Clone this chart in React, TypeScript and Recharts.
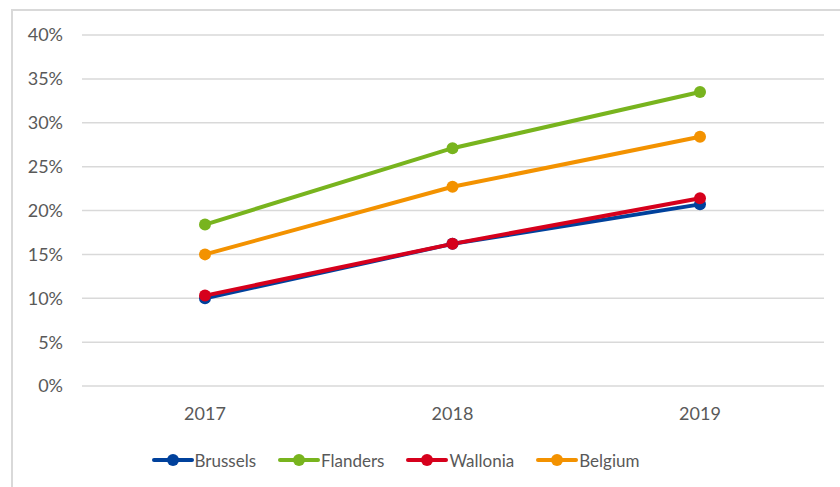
import React from 'react';
import { LineChart, Line, XAxis, YAxis, CartesianGrid, Legend } from 'recharts';

const years = ['2017', '2018', '2019'];
const brussels = [10.0, 16.2, 20.7];
const flanders = [18.4, 27.1, 33.5];
const wallonia = [10.3, 16.2, 21.4];
const belgium = [15.0, 22.7, 28.4];
const yTicks = [0, 5, 10, 15, 20, 25, 30, 35, 40];

const SERIES = [
  { key: 'Brussels', color: '#00419c' },
  { key: 'Flanders', color: '#78b41e' },
  { key: 'Wallonia', color: '#d6001c' },
  { key: 'Belgium', color: '#f39200' },
];

const data = years.map((year, i) => ({
  year,
  Brussels: brussels[i],
  Flanders: flanders[i],
  Wallonia: wallonia[i],
  Belgium: belgium[i],
}));

const FONT = 'Lato, "Liberation Sans", sans-serif';
const TEXT = '#595959';

const LegendContent = () => (
  <div
    style={{
      display: 'flex',
      justifyContent: 'center',
      alignItems: 'center',
      height: 24,
      fontFamily: FONT,
      fontSize: 17,
      color: TEXT,
    }}
  >
    {SERIES.map((s, i) => (
      <div
        key={s.key}
        style={{ display: 'flex', alignItems: 'center', marginRight: i < SERIES.length - 1 ? 22 : 0 }}
      >
        <svg width={42} height={14} style={{ marginRight: 1 }}>
          <line x1={2} y1={7} x2={40} y2={7} stroke={s.color} strokeWidth={4} strokeLinecap="round" />
          <circle cx={21} cy={7} r={6} fill={s.color} />
        </svg>
        <span>{s.key}</span>
      </div>
    ))}
  </div>
);

export default function App() {
  return (
    <div style={{ position: 'absolute', left: 0, top: 0, width: 840, height: 487, overflow: 'hidden', background: '#fff' }}>
      <div
        style={{
          position: 'absolute',
          left: 11,
          top: 9,
          width: 860,
          height: 520,
          border: '2px solid #d9d9d9',
          boxSizing: 'border-box',
        }}
      />
      <div style={{ position: 'absolute', left: 0, top: 0 }}>
        <LineChart width={840} height={487} data={data} margin={{ top: 35, right: 16, left: 0, bottom: 37 }}>
          <CartesianGrid horizontal vertical={false} stroke="#d9d9d9" strokeWidth={1.5} />
          <XAxis
            dataKey="year"
            axisLine={false}
            tickLine={false}
            tickMargin={15}
            height={40}
            padding={{ left: 123, right: 124 }}
            tick={{ fill: TEXT, fontSize: 18, fontFamily: FONT }}
          />
          <YAxis
            width={82}
            domain={[0, 40]}
            ticks={yTicks}
            interval={0}
            axisLine={false}
            tickLine={false}
            tickMargin={13}
            tickFormatter={(v) => `${v}%`}
            tick={{ fill: TEXT, fontSize: 18, fontFamily: FONT }}
          />
          <Legend
            verticalAlign="bottom"
            content={<LegendContent />}
            wrapperStyle={{ left: 0, width: 791, height: 24, top: 448 }}
          />
          {SERIES.map((s) => (
            <Line
              key={s.key}
              type="linear"
              dataKey={s.key}
              stroke={s.color}
              strokeWidth={4}
              dot={{ r: 6, fill: s.color, stroke: 'none' }}
              activeDot={false}
              isAnimationActive={false}
            />
          ))}
        </LineChart>
      </div>
    </div>
  );
}
